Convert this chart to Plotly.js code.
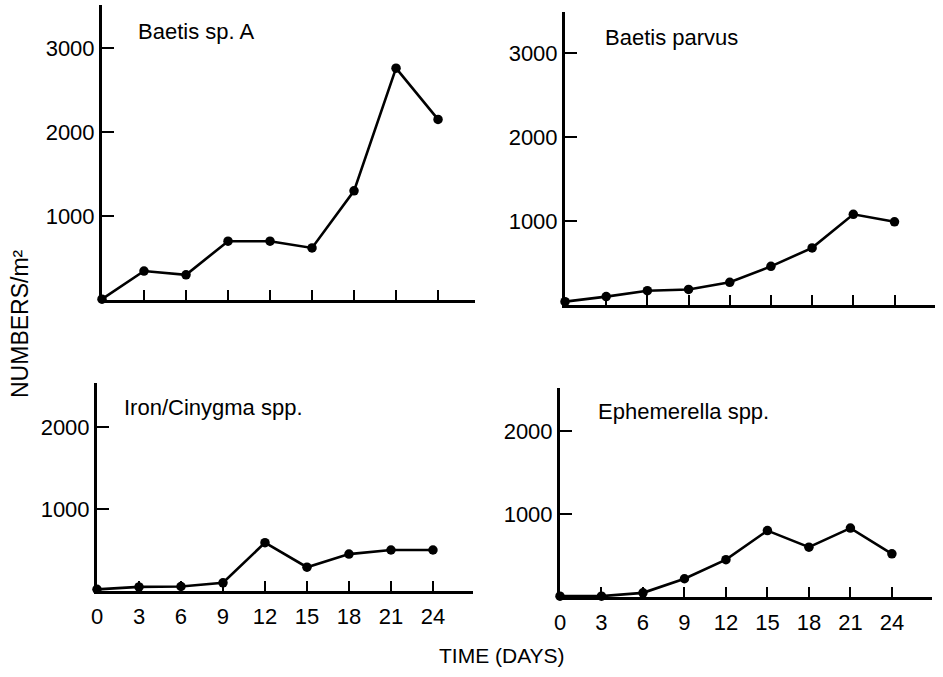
<!DOCTYPE html>
<html>
<head>
<meta charset="utf-8">
<script src="https://cdn.plot.ly/plotly-3.0.1.min.js"></script>
<style>html,body{margin:0;padding:0;background:#fff;}#chart{width:943px;height:677px;}</style>
</head>
<body>
<div id="chart"></div>
<script>
// Data (numbers per m² vs time in days)
const days = [0, 3, 6, 9, 12, 15, 18, 21, 24];
const dayTickLabels = ["0", "3", "6", "9", "12", "15", "18", "21", "24"];
const baetisSpA = [10, 345, 300, 700, 700, 620, 1300, 2760, 2150];
const baetisParvus = [40, 100, 170, 185, 270, 460, 680, 1080, 990];
const ironCinygma = [20, 50, 55, 100, 590, 290, 450, 500, 500];
const ephemerella = [10, 10, 50, 220, 450, 800, 600, 830, 520];
const panelNames = ["Baetis sp. A", "Baetis parvus", "Iron/Cinygma spp.", "Ephemerella spp."];
const topYTicks = [1000, 2000, 3000];
const bottomYTicks = [1000, 2000];

const FONT = "Liberation Sans, Arial, Helvetica, sans-serif";
const INK = "#000";

function trace(y, xa, ya) {
  return {
    x: days, y: y, xaxis: xa, yaxis: ya,
    type: "scatter", mode: "lines+markers",
    line: {color: INK, width: 2.6},
    marker: {color: INK, size: 9.5},
    cliponaxis: false, hoverinfo: "skip", showlegend: false
  };
}

const data = [
  trace(baetisSpA, "x", "y"),
  trace(baetisParvus, "x2", "y2"),
  trace(ironCinygma, "x3", "y3"),
  trace(ephemerella, "x4", "y4")
];

function xax(domain, range, anchor) {
  return {
    domain: domain, range: range, anchor: anchor,
    showline: true, linecolor: INK, linewidth: 3,
    showgrid: false, zeroline: false,
    ticks: "inside", ticklen: 10, tickwidth: 2, tickcolor: INK,
    tickmode: "array", tickvals: days.slice(1), ticktext: dayTickLabels.slice(1),
    showticklabels: false,
    fixedrange: true
  };
}
function xaxLabeled(domain, range, anchor) {
  const a = xax(domain, range, anchor);
  a.tickvals = days; a.ticktext = dayTickLabels;
  a.showticklabels = true;
  a.tickfont = {family: FONT, size: 22, color: INK};
  a.ticklabelstandoff = 4;
  return a;
}
function yax(domain, range, tv, anchor) {
  return {
    domain: domain, range: range, anchor: anchor,
    showline: true, linecolor: INK, linewidth: 3,
    showgrid: false, zeroline: false,
    ticks: "inside", ticklen: 12, tickwidth: 2, tickcolor: INK,
    tickmode: "array", tickvals: tv, ticktext: tv.map(String),
    tickfont: {family: FONT, size: 22, color: INK},
    ticklabelstandoff: 0,
    fixedrange: true
  };
}

const W = 943, H = 677;
const px = v => v / W;
const py = v => (H - v) / H;
const tfont = {family: FONT, size: 22, color: INK};

const layout = {
  width: W, height: H,
  margin: {l: 0, r: 0, t: 0, b: 0},
  paper_bgcolor: "#fff", plot_bgcolor: "rgba(0,0,0,0)",
  showlegend: false,
  xaxis:  xax([px(102), px(475)], [0, 26.64], "y"),
  yaxis:  yax([py(300), py(5)], [0, 3512], topYTicks, "x"),
  xaxis2: xax([px(565), px(935)], [0, 26.95], "y2"),
  yaxis2: yax([py(305), py(12)], [0, 3488], topYTicks, "x2"),
  xaxis3: xaxLabeled([px(97), px(473)], [0, 26.86], "y3"),
  yaxis3: yax([py(591), py(383)], [0, 2537], bottomYTicks, "x3"),
  xaxis4: xaxLabeled([px(560), px(932)], [0, 26.9], "y4"),
  yaxis4: yax([py(597), py(388)], [0, 2518], bottomYTicks, "x4"),
  annotations: [
    {text: panelNames[0], xref: "paper", yref: "paper", x: px(136), y: py(32), xanchor: "left", yanchor: "middle", showarrow: false, font: tfont},
    {text: panelNames[1], xref: "paper", yref: "paper", x: px(603), y: py(37), xanchor: "left", yanchor: "middle", showarrow: false, font: tfont},
    {text: panelNames[2], xref: "paper", yref: "paper", x: px(122), y: py(407), xanchor: "left", yanchor: "middle", showarrow: false, font: tfont},
    {text: panelNames[3], xref: "paper", yref: "paper", x: px(596), y: py(412), xanchor: "left", yanchor: "middle", showarrow: false, font: tfont},
    {text: "NUMBERS/m²", xref: "paper", yref: "paper", x: px(20), y: py(324), xanchor: "center", yanchor: "middle", textangle: -90, showarrow: false, font: {family: FONT, size: 23, color: INK}},
    {text: "TIME (DAYS)", xref: "paper", yref: "paper", x: px(502), y: py(655), xanchor: "center", yanchor: "middle", showarrow: false, font: {family: FONT, size: 21, color: INK}}
  ]
};

Plotly.newPlot("chart", data, layout, {staticPlot: true, displayModeBar: false});
</script>
</body>
</html>
